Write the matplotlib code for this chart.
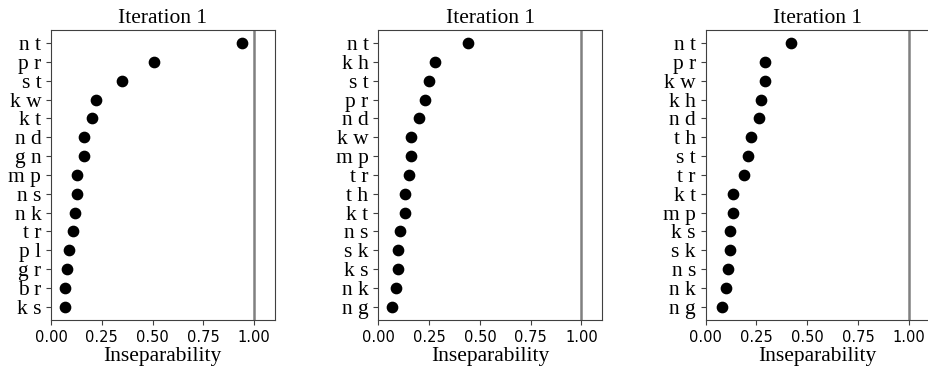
import matplotlib
matplotlib.use("Agg")
import matplotlib.pyplot as plt

# three runs, each with its own top-15 pairs
labels_a = ["n t", "p r", "s t", "k w", "k t", "n d", "g n", "m p",
            "n s", "n k", "t r", "p l", "g r", "b r", "k s"]
values_a = [0.942, 0.509, 0.350, 0.220, 0.200, 0.161, 0.161, 0.128,
            0.128, 0.120, 0.108, 0.087, 0.079, 0.069, 0.069]

labels_b = ["n t", "k h", "s t", "p r", "n d", "k w", "m p", "t r",
            "t h", "k t", "n s", "s k", "k s", "n k", "n g"]
values_b = [0.441, 0.279, 0.249, 0.230, 0.198, 0.161, 0.161, 0.149,
            0.130, 0.130, 0.108, 0.098, 0.098, 0.089, 0.069]

labels_c = ["n t", "p r", "k w", "k h", "n d", "t h", "s t", "t r",
            "k t", "m p", "k s", "s k", "n s", "n k", "n g"]
values_c = [0.420, 0.290, 0.290, 0.270, 0.262, 0.221, 0.210, 0.189,
            0.133, 0.133, 0.120, 0.120, 0.111, 0.100, 0.080]

titles = ["Iteration 1", "Iteration 1", "Iteration 1"]
threshold = 1.0

serif = "Liberation Serif"
fs = 15.5

fig = plt.figure(figsize=(9.29, 3.72), dpi=100)
lefts = [0.0549, 0.4072, 0.7596]
panels = [(labels_a, values_a), (labels_b, values_b), (labels_c, values_c)]

for left, title, (labs, vals) in zip(lefts, titles, panels):
    ax = fig.add_axes([left, 0.1398, 0.2406, 0.7796])
    ax.scatter(vals, labs, s=55, color="black", zorder=3)
    ax.axvline(threshold, color="#808080", lw=1.8, zorder=2)
    ax.set_xlim(0, 1.1)
    ax.invert_yaxis()
    ax.set_xticks([0, 0.25, 0.5, 0.75, 1.0])
    ax.set_xticklabels(["0.00", "0.25", "0.50", "0.75", "1.00"],
                       fontsize=10.5, family="DejaVu Sans")
    for t in ax.get_yticklabels():
        t.set_fontfamily(serif)
        t.set_fontsize(fs)
    ax.set_title(title, family=serif, fontsize=fs, pad=5)
    ax.set_xlabel("Inseparability", family=serif, fontsize=fs, labelpad=2)
    for sp in ax.spines.values():
        sp.set_color("#404040")
    ax.tick_params(colors="#404040", labelcolor="black")

fig.savefig("out.png", dpi=100)
